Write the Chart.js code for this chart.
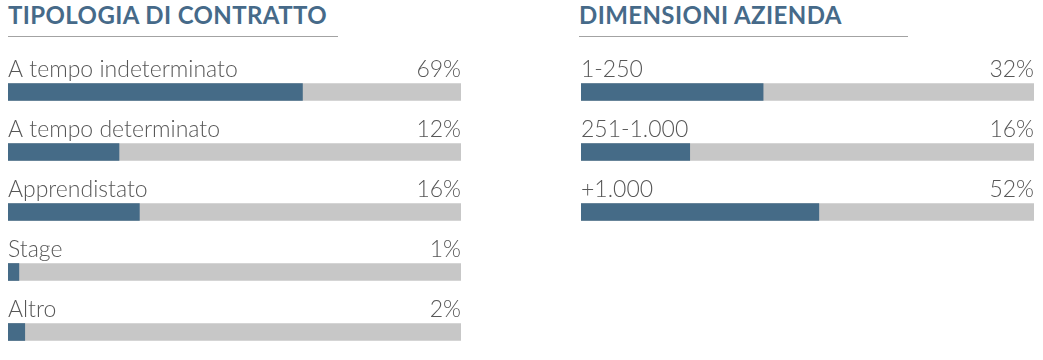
<!DOCTYPE html>
<html><head><meta charset="utf-8">
<script src="https://cdn.jsdelivr.net/npm/chart.js@4/dist/chart.umd.min.js"></script>
<style>
html,body{margin:0;padding:0;background:#fff;width:1043px;height:360px;overflow:hidden;font-family:Lato,"Open Sans",sans-serif;}
.title{position:absolute;top:0px;font-weight:700;font-size:24px;color:#466a89;letter-spacing:0.4px;white-space:nowrap;}
.rule{position:absolute;top:36px;height:0;border-top:1.5px solid #a3a3a3;}
.wrap{position:absolute;}
</style></head><body>
<div class="title" id="t1" style="left:8px">TIPOLOGIA DI CONTRATTO</div>
<div class="rule" style="left:8px;width:330px"></div>
<div class="title" id="t2" style="left:579px">DIMENSIONI AZIENDA</div>
<div class="rule" style="left:579px;width:329px"></div>
<div class="wrap" style="left:8px;top:0;width:453px;height:362px"><canvas id="c1"></canvas></div>
<div class="wrap" style="left:581px;top:0;width:453px;height:242px"><canvas id="c2"></canvas></div>
<script>
// Contract type
const contractCategories = ["A tempo indeterminato","A tempo determinato","Apprendistato","Stage","Altro"];
const contractLabels = ["69%","12%","16%","1%","2%"];
const contractBars = [65, 24.5, 29, 2.4, 3.7];
// Company size
const sizeCategories = ["1-250","251-1.000","+1.000"];
const sizeLabels = ["32%","16%","52%"];
const sizeBars = [40.2, 24, 52.5];
const trackMax = 100;

const BLUE = "#456b87", GREY = "#c7c7c7", TEXT = "#575757";

const labelPlugin = {
  id: "rowLabels",
  afterDatasetsDraw(chart, args, opts) {
    const ctx = chart.ctx;
    const meta = chart.getDatasetMeta(0);
    const area = chart.chartArea;
    ctx.save();
    ctx.fillStyle = TEXT;
    ctx.font = "300 23px Lato, 'Open Sans', sans-serif";
    ctx.textBaseline = "alphabetic";
    meta.data.forEach((bar, i) => {
      const top = bar.y - bar.height / 2;
      ctx.textAlign = "left";
      ctx.fillText(chart.data.labels[i], area.left, top - 7);
      ctx.textAlign = "right";
      ctx.fillText(opts.values[i], area.right, top - 7);
    });
    ctx.restore();
  }
};

function makeChart(id, cats, bars, pcts) {
  return new Chart(document.getElementById(id), {
    type: "bar",
    data: {
      labels: cats,
      datasets: [
        { data: bars, backgroundColor: BLUE, barThickness: 17, grouped: false, order: 0 },
        { data: cats.map(() => trackMax), backgroundColor: GREY, barThickness: 17, grouped: false, order: 1 }
      ]
    },
    options: {
      indexAxis: "y",
      responsive: true,
      maintainAspectRatio: false,
      animation: false,
      layout: { padding: { top: 62, bottom: 0, left: 0, right: 0 } },
      scales: {
        x: { display: false, min: 0, max: trackMax },
        y: { display: false }
      },
      plugins: { legend: { display: false }, tooltip: { enabled: false }, rowLabels: { values: pcts } }
    },
    plugins: [labelPlugin]
  });
}
makeChart("c1", contractCategories, contractBars, contractLabels);
makeChart("c2", sizeCategories, sizeBars, sizeLabels);
</script>
</body></html>
